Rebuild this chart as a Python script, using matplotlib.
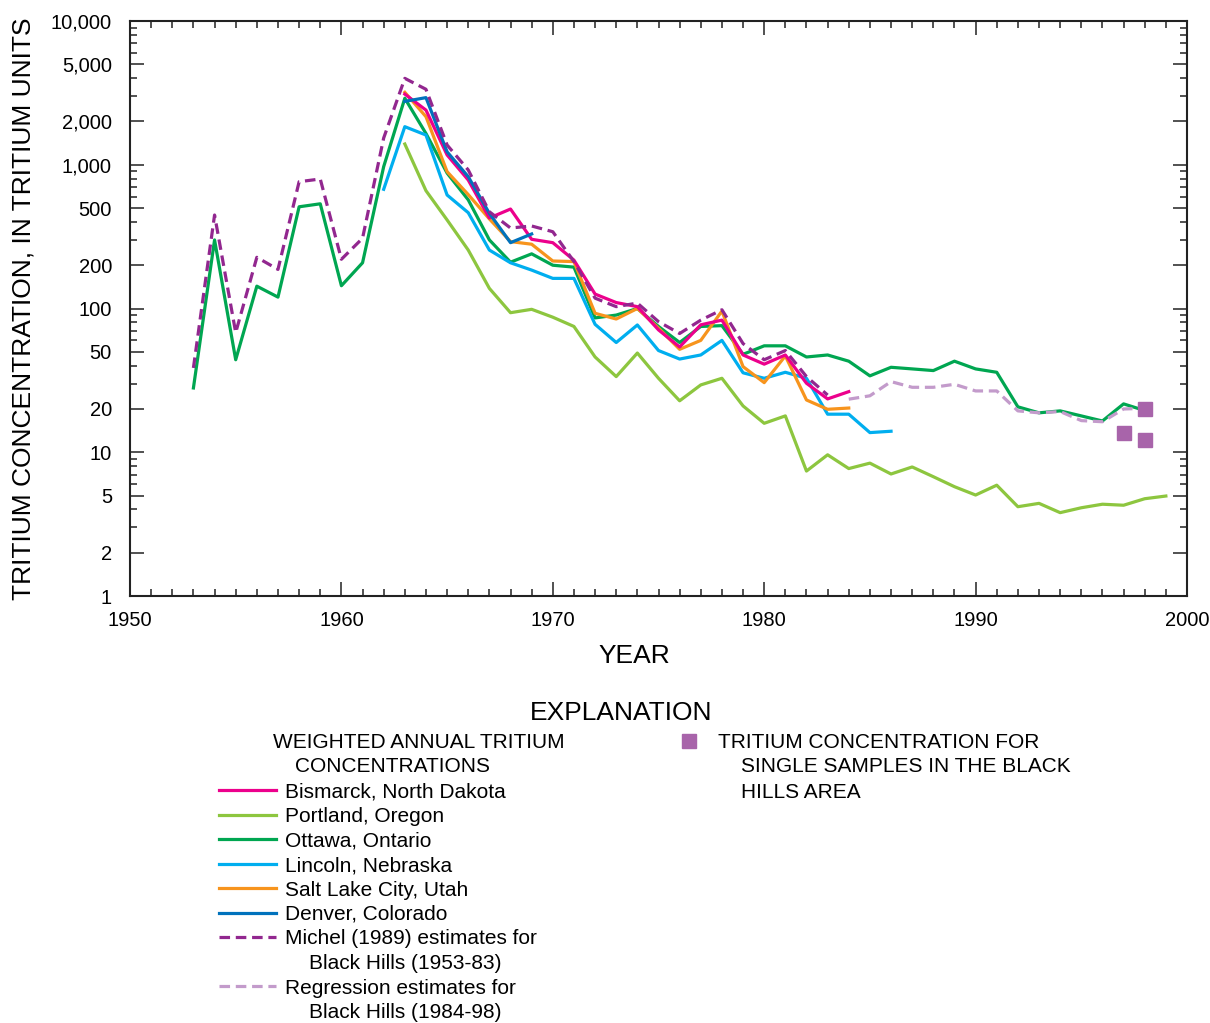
import numpy as np
import matplotlib
matplotlib.use("Agg")
import matplotlib.pyplot as plt
from matplotlib.ticker import FixedLocator, FuncFormatter, MultipleLocator
from matplotlib.lines import Line2D

plt.rcParams['font.family'] = ['Liberation Sans', 'DejaVu Sans']

# weighted annual tritium concentrations (TU)
ottawa_years = list(range(1953, 1999))
ottawa = [28, 300, 44, 143, 120, 510, 535, 144, 208, 970, 2900, 1650, 875, 570, 300,
          210, 240, 200, 194, 86, 90, 100, 75, 58, 75, 76, 48, 55, 55, 46, 47.5,
          43, 34, 39, 38, 37, 43, 38, 36, 20.7, 18.8, 19.4, 17.9, 16.5, 21.7, 19.5]

portland_years = list(range(1963, 2000))
portland = [1394, 660, 413, 255, 138, 93.5, 98.7, 87, 75, 46, 33.6, 49, 32.7, 22.8,
            29.4, 32.7, 21, 15.9, 17.9, 7.4, 9.6, 7.7, 8.4, 7.06, 7.9, 6.76, 5.76,
            5.04, 5.9, 4.18, 4.41, 3.8, 4.11, 4.35, 4.28, 4.75, 4.96]

lincoln_years = list(range(1962, 1987))
lincoln = [675, 1840, 1610, 616, 464, 255, 208, 185, 162, 162, 77.6, 58, 76.8, 51,
           44.5, 47.5, 60, 35.7, 32.7, 36, 32.7, 18.4, 18.4, 13.7, 14]

saltlake_years = list(range(1963, 1985))
saltlake = [3190, 2160, 895, 620, 420, 292, 280, 214, 212, 92.6, 84.5, 100, 73, 52,
            60, 96, 39.4, 30.5, 46.8, 23.1, 19.9, 20.3]

bismarck_years = list(range(1963, 1985))
bismarck = [3100, 2400, 1170, 783, 426, 492, 303, 287, 217, 126, 110, 103, 71, 54,
            77, 83, 47.5, 41, 47.5, 30.2, 23.5, 26.4]

denver_years = list(range(1963, 1970))
denver = [2760, 2930, 1230, 826, 459, 287, 330]

michel_years = list(range(1953, 1984))
michel = [38.6, 447, 68, 227, 187, 762, 796, 220, 308, 1535, 3990, 3350, 1372, 920,
          471, 363, 375, 342, 212, 118, 103, 109, 81, 67, 83, 98, 57, 44, 51, 33.6, 25]

regression_years = list(range(1984, 1999))
regression = [23.4, 24.7, 31, 28.3, 28.3, 29.7, 26.7, 26.7, 19.4, 18.8, 19.2, 16.6,
              16.3, 20, 20.2]

sample_years = [1997, 1998, 1998]
sample_values = [13.7, 20, 12.2]

c_bismarck = '#EC008C'
c_portland = '#8DC63F'
c_ottawa = '#00A651'
c_lincoln = '#00AEEF'
c_saltlake = '#F7941D'
c_denver = '#0072BC'
c_michel = '#92278F'
c_regress = '#C39BCB'
c_sample = '#A864AA'

fig = plt.figure(figsize=(12.1, 10.23), dpi=100)
ax = fig.add_axes([130 / 1210, 1 - 596 / 1023, (1187 - 130) / 1210, (596 - 21) / 1023])

lw = 2.3
dash = (0, (3.3, 1.8))
ax.plot(portland_years, portland, color=c_portland, lw=lw)
ax.plot(ottawa_years, ottawa, color=c_ottawa, lw=lw)
ax.plot(lincoln_years, lincoln, color=c_lincoln, lw=lw)
ax.plot(saltlake_years, saltlake, color=c_saltlake, lw=lw)
ax.plot(bismarck_years, bismarck, color=c_bismarck, lw=lw)
ax.plot(denver_years, denver, color=c_denver, lw=lw)
ax.plot(michel_years, michel, color=c_michel, lw=lw, linestyle=dash)
ax.plot(regression_years, regression, color=c_regress, lw=lw, linestyle=dash)
ax.plot(sample_years, sample_values, linestyle='none', marker='s', markersize=10,
        color=c_sample)

ax.set_yscale('log')
ax.set_ylim(1, 10000)
ax.set_xlim(1950, 2000)

yt = [1, 2, 5, 10, 20, 50, 100, 200, 500, 1000, 2000, 5000, 10000]
ax.yaxis.set_major_locator(FixedLocator(yt))
ax.yaxis.set_major_formatter(FuncFormatter(lambda v, p: f'{int(round(v)):,}'))
ax.yaxis.set_minor_locator(FixedLocator(
    [m * 10 ** e for e in range(0, 4) for m in (3, 4, 6, 7, 8, 9)]))
ax.xaxis.set_major_locator(MultipleLocator(10))
ax.xaxis.set_minor_locator(MultipleLocator(1))

ax.tick_params(which='both', direction='in', top=True, right=True, labelsize=14.5,
               color='#333333', width=1.2)
ax.tick_params(which='major', length=10)
ax.tick_params(which='minor', length=5)
ax.tick_params(axis='x', pad=11)
ax.tick_params(axis='y', pad=13)
for s in ax.spines.values():
    s.set_color('#222222')
    s.set_linewidth(1.5)

ax.set_xlabel('YEAR', fontsize=19, labelpad=10)
ax.xaxis.label.set_x((634 - 130) / 1057)
ax.set_ylabel('TRITIUM CONCENTRATION, IN TRITIUM UNITS', fontsize=19, labelpad=11)

fig.canvas.draw()
ax.xaxis.get_major_ticks()[0].label1.set_fontweight('bold')

# explanation block, laid out in figure pixels
lg = fig.add_axes([0, 0, 1, 1])
lg.set_xlim(0, 1210)
lg.set_ylim(1023, 0)
lg.axis('off')
fs = 15
lg.text(621, 713, 'EXPLANATION', fontsize=19, ha='center', va='center')
lg.text(419, 742, 'WEIGHTED ANNUAL TRITIUM', fontsize=fs, ha='center', va='center')
lg.text(393, 767, 'CONCENTRATIONS', fontsize=fs, ha='center', va='center')

entries = [
    ('Bismarck, North Dakota', c_bismarck, '-'),
    ('Portland, Oregon', c_portland, '-'),
    ('Ottawa, Ontario', c_ottawa, '-'),
    ('Lincoln, Nebraska', c_lincoln, '-'),
    ('Salt Lake City, Utah', c_saltlake, '-'),
    ('Denver, Colorado', c_denver, '-'),
    ('Michel (1989) estimates for\n    Black Hills (1953-83)', c_michel, dash),
    ('Regression estimates for\n    Black Hills (1984-98)', c_regress, dash),
]
y = 790
for label, col, ls in entries:
    lg.add_line(Line2D([219, 276], [y, y], color=col, lw=lw, linestyle=ls))
    lines = label.split('\n')
    lg.text(285, y + 2, lines[0], fontsize=fs, va='center')
    if len(lines) > 1:
        y += 24.5
        lg.text(309, y + 2, lines[1].strip(), fontsize=fs, va='center')
    y += 24.5

lg.plot([689], [741], linestyle='none', marker='s', markersize=10, color=c_sample)
lg.text(718, 742, 'TRITIUM CONCENTRATION FOR', fontsize=fs, va='center')
lg.text(741, 767, 'SINGLE SAMPLES IN THE BLACK', fontsize=fs, va='center')
lg.text(741, 792, 'HILLS AREA', fontsize=fs, va='center')

fig.savefig('out.png', dpi=100)
